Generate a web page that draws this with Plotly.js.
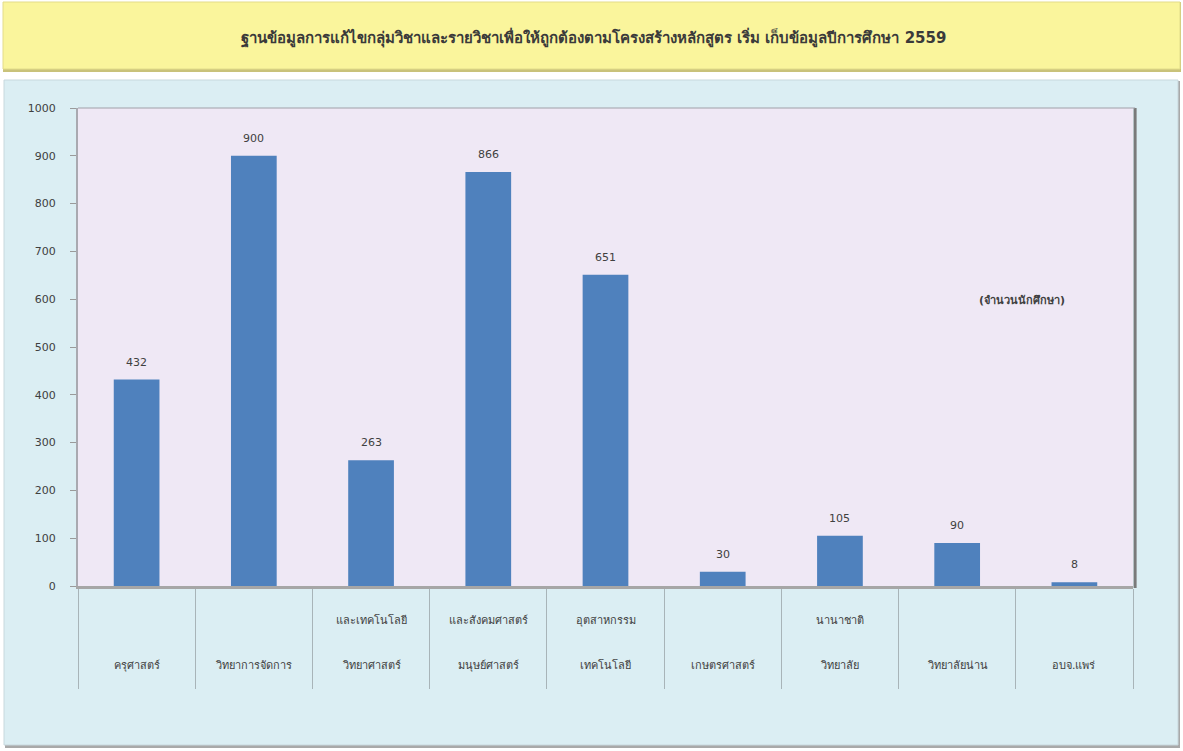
<!DOCTYPE html>
<html>
<head>
<meta charset="utf-8">
<script src="https://cdn.plot.ly/plotly-3.0.1.min.js"></script>
<style>html,body{margin:0;padding:0;background:#fff;}#chart{width:1183px;height:751px;}</style>
</head>
<body>
<div id="chart"></div>
<script>
const categories = ["ครุศาสตร์","วิทยาการจัดการ","วิทยาศาสตร์และเทคโนโลยี","มนุษยศาสตร์และสังคมศาสตร์","เทคโนโลยีอุตสาหกรรม","เกษตรศาสตร์","วิทยาลัยนานาชาติ","วิทยาลัยน่าน","อบจ.แพร่"];
const labelLower = ["ครุศาสตร์","วิทยาการจัดการ","วิทยาศาสตร์","มนุษย์ศาสตร์","เทคโนโลยี","เกษตรศาสตร์","วิทยาลัย","วิทยาลัยน่าน","อบจ.แพร่"];
const labelUpper = ["","","และเทคโนโลยี","และสังคมศาสตร์","อุตสาหกรรม","","นานาชาติ","",""];
const students = [432, 900, 263, 866, 651, 30, 105, 90, 8];
const yTicks = [0,100,200,300,400,500,600,700,800,900,1000];
const titleText = "ฐานข้อมูลการแก้ไขกลุ่มวิชาและรายวิชาเพื่อให้ถูกต้องตามโครงสร้างหลักสูตร เริ่ม เก็บข้อมูลปีการศึกษา 2559";
const unitText = "(จำนวนนักศึกษา)";

const FONT = "Tahoma, 'DejaVu Sans', 'Noto Sans', sans-serif";
const W = 1183, H = 751;
const L = 78, R = 50, T = 108, B = 165;
const pw = W - L - R, ph = H - T - B;
const px = x => (x - L) / pw;
const py = y => (H - B - y) / ph;

const annotations = [];
categories.forEach((c, i) => {
  annotations.push({x: c, y: py(665), xref: 'x', yref: 'paper', text: labelLower[i], showarrow: false,
    font: {family: FONT, size: 11, color: '#404040'}, yanchor: 'middle'});
  if (labelUpper[i]) annotations.push({x: c, y: py(620), xref: 'x', yref: 'paper', text: labelUpper[i], showarrow: false,
    font: {family: FONT, size: 11, color: '#404040'}, yanchor: 'middle'});
  annotations.push({x: c, y: students[i], xref: 'x', yref: 'y', text: String(students[i]), showarrow: false,
    yanchor: 'bottom', yshift: 9, font: {family: FONT, size: 11, color: '#404040'}});
});
annotations.push({x: px(593), y: py(37), xref: 'paper', yref: 'paper', text: '<b>' + titleText + '</b>', showarrow: false,
  font: {family: FONT, size: 15, color: '#3a3a3a'}, xanchor: 'center', yanchor: 'middle'});
annotations.push({x: px(1022), y: py(300), xref: 'paper', yref: 'paper', text: '<b>' + unitText + '</b>', showarrow: false,
  font: {family: FONT, size: 11, color: '#404040'}, xanchor: 'center', yanchor: 'middle'});

const shapes = [
  {type: 'rect', xref: 'paper', yref: 'paper', x0: px(3), x1: px(1181), y0: py(72), y1: py(2), fillcolor: '#c9c27a', line: {width: 0}, layer: 'below'},
  {type: 'rect', xref: 'paper', yref: 'paper', x0: px(3), x1: px(1180), y0: py(69), y1: py(2), fillcolor: '#faf59c', line: {color: '#e3dc8a', width: 1}, layer: 'below'},
  {type: 'rect', xref: 'paper', yref: 'paper', x0: px(5), x1: px(1180), y0: py(748), y1: py(81), fillcolor: '#a9a9a9', line: {width: 0}, layer: 'below'},
  {type: 'rect', xref: 'paper', yref: 'paper', x0: px(4), x1: px(1178), y0: py(745), y1: py(80), fillcolor: '#dbeef3', line: {color: '#c8d8dd', width: 1}, layer: 'below'},
  // plot area fill
  {type: 'rect', xref: 'x domain', yref: 'y domain', x0: 0, x1: 1, y0: 0, y1: 1, fillcolor: '#efe8f5', line: {width: 0}, layer: 'below'},
  {type: 'line', xref: 'paper', yref: 'paper', x0: 1.002, x1: 1.002, y0: -0.004, y1: 1.0, line: {color: '#7a7a7a', width: 3}},
  {type: 'line', xref: 'paper', yref: 'paper', x0: 0, x1: 1.002, y0: 1, y1: 1, line: {color: '#a0a0a8', width: 1}}
];

const trace = {
  type: 'bar', x: categories, y: students,
  marker: {color: '#4f81bd', line: {width: 0}},
  width: 0.39, hoverinfo: 'x+y'
};

const layout = {
  width: W, height: H,
  margin: {l: L, r: R, t: T, b: B, pad: 0},
  paper_bgcolor: '#ffffff', plot_bgcolor: '#efe8f5',
  showlegend: false,
  font: {family: FONT, size: 11, color: '#404040'},
  xaxis: {
    type: 'category', showticklabels: false, tickson: 'boundaries',
    ticks: 'outside', ticklen: 100, tickwidth: 1, tickcolor: '#a8b4b8',
    showline: true, linecolor: '#a6a6a6', linewidth: 3, showgrid: false, zeroline: false,
    fixedrange: true
  },
  yaxis: {
    range: [0, 1000], tickvals: yTicks, ticks: 'outside', ticklen: 6, tickcolor: '#9a9a9a',
    ticklabelstandoff: 12,
    tickfont: {family: FONT, size: 11, color: '#404040'},
    showline: true, linecolor: '#a9a9b0', linewidth: 2, showgrid: false, zeroline: false,
    fixedrange: true
  },
  annotations: annotations,
  shapes: shapes
};

Plotly.newPlot('chart', [trace], layout, {displayModeBar: false, staticPlot: true});
</script>
</body>
</html>
